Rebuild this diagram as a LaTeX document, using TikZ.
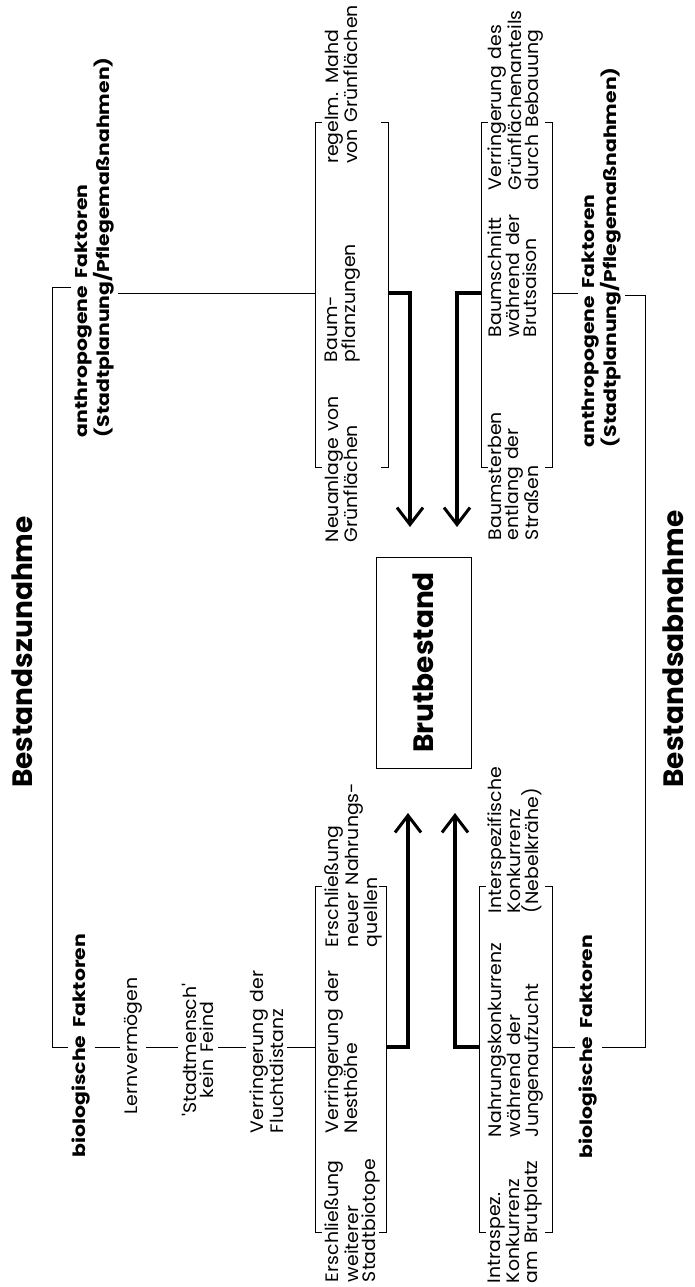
\documentclass[tikz,border=0pt]{standalone}
\usepackage{fontspec}
\setmainfont{Poppins}
\newfontfamily\regfont{Poppins}[FakeStretch=1.05, WordSpace=1.4]
\newfontfamily\labfont{Poppins}[FakeStretch=1.2, WordSpace=1.8]
\usetikzlibrary{arrows.meta}
\begin{document}
\begin{tikzpicture}[x=1pt,y=1pt,
  line width=0.9pt,
  txt/.style={rotate=90, inner sep=0pt, outer sep=0pt, align=left, anchor=north west, font=\regfont\fontsize{18}{17.5}\selectfont},
  ctxt/.style={rotate=90, inner sep=0pt, outer sep=0pt, align=center, font=\regfont\fontsize{18}{17.5}\selectfont},
  btxt/.style={rotate=90, inner sep=0pt, outer sep=0pt, align=left, anchor=north west, font=\labfont\bfseries\fontsize{17}{16}\selectfont},
  mytitle/.style={rotate=90, inner sep=0pt, font=\bfseries\fontsize{28}{30}\selectfont},
  thickarrow/.style={line width=4.5pt, -{Straight Barb[length=17pt,width=26pt,line width=3pt]}},
  gapline/.style={shorten <=4pt, shorten >=4pt},
]
\fill[white] (0,0) rectangle (695,-1287);
\useasboundingbox (0,0) rectangle (695,-1287);

% titles and central box
\node[mytitle, anchor=south] (zun) at (33,-652) {Bestandszunahme};
\node[mytitle, anchor=south] (abn) at (684,-649) {Bestandsabnahme};
\node[mytitle, draw, line width=0.9pt, minimum width=211pt, minimum height=95pt] (box) at (423.5,-662.5) {Brutbestand};

% factor labels
\node[btxt] (a1) at (75,-437) {anthropogene Faktoren\\(Stadtplanung/Pflegemaßnahmen)};
\node[btxt] (a2) at (582,-447) {anthropogene Faktoren\\(Stadtplanung/Pflegemaßnahmen)};
\node[btxt, anchor=center] (b1) at (81.5,-1045.5) {biologische Faktoren};
\node[btxt, anchor=center] (b2) at (588.5,-1046.5) {biologische Faktoren};

% chain on the lower left
\node[ctxt] (lern) at (133,-1046) {Lernvermögen};
\node[ctxt] (stadt) at (198,-1050) {'Stadtmensch'\\kein Feind};
\node[txt] (flucht) at (250,-1133) {Verringerung der\\Fluchtdistanz};

% top-left group
\node[txt] (tl1) at (325,-542) {Neuanlage von\\Grünflächen};
\node[txt] (tl2) at (325,-362) {Baum-\\pflanzungen};
\node[txt] (tl3) at (325,-164) {regelm. Mahd\\von Grünflächen};
% top-right group
\node[txt] (tr1) at (488,-540) {Baumsterben\\entlang der\\Straßen};
\node[txt] (tr2) at (488,-337) {Baumschnitt\\während der\\Brutsaison};
\node[txt] (tr3) at (488,-190) {Verringerung des\\Grünflächenanteils\\durch Bebauung};
% bottom-left group
\node[txt] (bl1) at (325,-1282) {Erschließung\\weiterer\\Stadtbiotope};
\node[txt] (bl2) at (325,-1133) {Verringerung der\\Nesthöhe};
\node[txt] (bl3) at (325,-947) {Erschließung\\neuer Nahrungs-\\quellen};
% bottom-right group
\node[txt] (br1) at (488,-1283) {Intraspez.\\Konkurrenz\\am Brutplatz};
\node[txt] (br2) at (488,-1137) {Nahrungskonkurrenz\\während der\\Jungenaufzucht};
\node[txt] (br3) at (488,-913) {Interspezifische\\Konkurrenz\\(Nebelkrähe)};

% coordinates
\coordinate (LT) at (52,-287);
\coordinate (LB) at (52,-1047);
\coordinate (RT) at (645,-295);
\coordinate (RB) at (645,-1047);
\coordinate (tlm) at (315,-293);
\coordinate (tlr) at (388,-293);
\coordinate (trl) at (481,-293);
\coordinate (trm) at (552,-293);
\coordinate (blm) at (315,-1047);
\coordinate (blr) at (386,-1047);
\coordinate (brl) at (479,-1047);
\coordinate (brm) at (552,-1047);
\coordinate (t1) at (410,-527);
\coordinate (t2) at (457,-527);
\coordinate (t3) at (408,-813);
\coordinate (t4) at (455,-813);

% brackets
\draw (322,-122) -- (315,-122) -- (315,-467) -- (322,-467);
\draw (381,-122) -- (388,-122) -- (388,-467) -- (381,-467);
\draw (488,-122) -- (481,-122) -- (481,-467) -- (488,-467);
\draw (545,-122) -- (552,-122) -- (552,-467) -- (545,-467);
\draw (322,-886) -- (315,-886) -- (315,-1232) -- (322,-1232);
\draw (379,-886) -- (386,-886) -- (386,-1232) -- (379,-1232);
\draw (486,-886) -- (479,-886) -- (479,-1232) -- (486,-1232);
\draw (545,-886) -- (552,-886) -- (552,-1232) -- (545,-1232);

% left structure
\draw[shorten <=4pt, shorten >=4pt] (a1.north |- LT) -- (LT) -- (LB) -- (b1.north |- LB);
\draw[shorten <=4pt] (a1.south |- tlm) -- (tlm);
\draw[gapline] (b1.south |- LB) -- (lern.north |- LB);
\draw[gapline] (lern.south |- LB) -- (stadt.north |- LB);
\draw[gapline] (stadt.south |- LB) -- (flucht.north |- LB);
\draw[shorten <=4pt] (flucht.south |- LB) -- (blm);

% right structure
\draw[shorten >=4pt] (trm) -- (a2.north |- trm);
\draw[shorten <=4pt, shorten >=4pt] (a2.south |- RT) -- (RT) -- (RB) -- (b2.south |- RB);
\draw[shorten >=4pt] (brm) -- (b2.north |- brm);

% thick arrows
\draw[thickarrow] (tlr) -| (t1);
\draw[thickarrow] (trl) -| (t2);
\draw[thickarrow] (blr) -| (t3);
\draw[thickarrow] (brl) -| (t4);
\end{tikzpicture}
\end{document}
